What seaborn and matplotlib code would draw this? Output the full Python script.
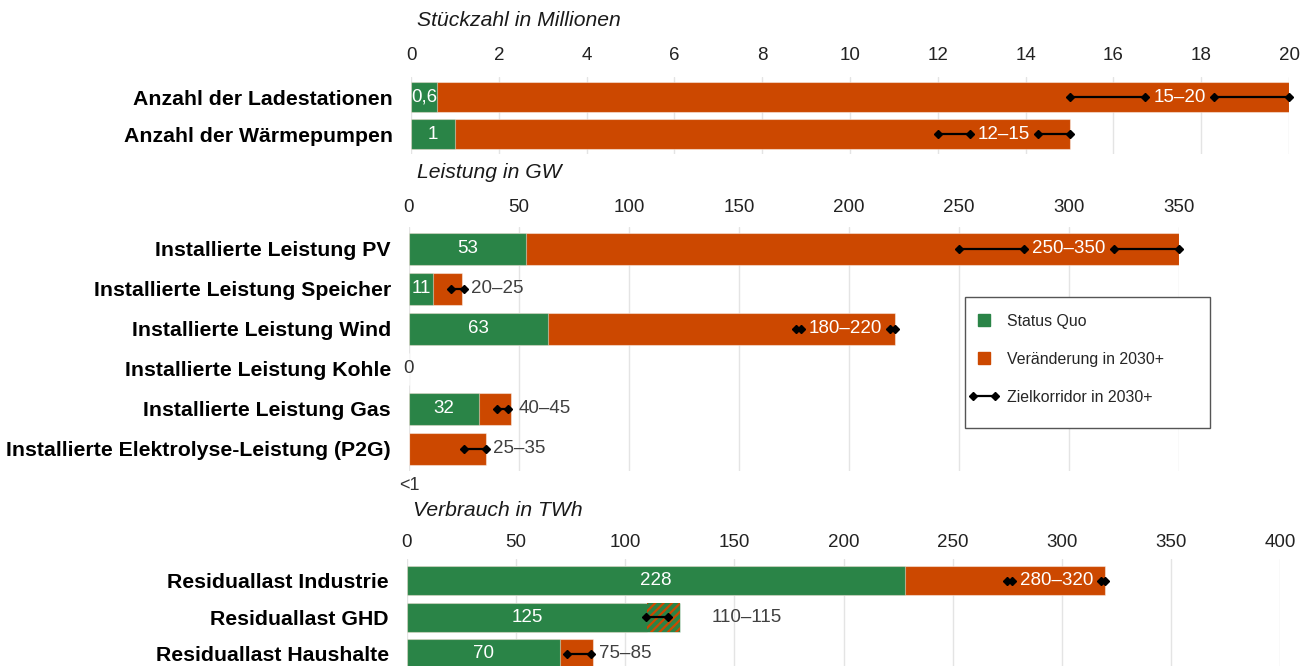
import matplotlib
matplotlib.use('Agg')
import matplotlib.pyplot as plt
import pandas as pd
import seaborn as sns
from matplotlib.lines import Line2D
from matplotlib.patches import Rectangle
from matplotlib.legend_handler import HandlerLine2D

GREEN = '#2a8447'
ORANGE = '#cc4800'
DARK = '#333333'

# Stückzahl in Millionen
count_cats = ['Anzahl der Ladestationen', 'Anzahl der Wärmepumpen']
count_status = [0.6, 1]
count_total = [20, 15]
count_lo = [15, 12]
count_hi = [20, 15]
count_status_txt = ['0,6', '1']
count_range_txt = ['15–20', '12–15']

# Leistung in GW
power_cats = ['Installierte Leistung PV', 'Installierte Leistung Speicher',
              'Installierte Leistung Wind', 'Installierte Leistung Kohle',
              'Installierte Leistung Gas', 'Installierte Elektrolyse-Leistung (P2G)']
power_status = [53, 11, 63, 0, 32, 0]
power_total = [350, 24, 221, 0, 46.5, 35]
power_lo = [250, 19, 176, None, 40, 25]
power_hi = [350, 25, 221, None, 45, 35]
power_status_txt = ['53', '11', '63', '0', '32', '<1']
power_range_txt = ['250–350', '20–25', '180–220', '', '40–45', '25–35']

# Verbrauch in TWh
energy_cats = ['Residuallast Industrie', 'Residuallast GHD', 'Residuallast Haushalte']
energy_status = [228, 125, 70]
energy_total = [320, 110, 85]
energy_lo = [275, 109.5, 73.5]
energy_hi = [320, 119.5, 84.5]
energy_status_txt = ['228', '125', '70']
energy_range_txt = ['280–320', '110–115', '75–85']

sns.set_theme(style='white')
plt.rcParams['font.family'] = ['Liberation Sans', 'DejaVu Sans']
plt.rcParams['hatch.linewidth'] = 1.6

NUM_FS = 13.5
CAT_FS = 15.3
DIA = 4.2

fig = plt.figure(figsize=(13.07, 6.66), dpi=100)

inline_ranges = []


def draw_panel(ax, cats, status, total, lo, hi, status_txt, range_txt, xmax, step, xpad):
    df = pd.DataFrame({'cat': cats, 'status': status, 'total': total})
    bar_kw = dict(orient='h', saturation=1, width=0.8, errorbar=None, ax=ax,
                  edgecolor=(1, 1, 1, 0.45), linewidth=0.8)
    sns.barplot(data=df, x='total', y='cat', color=ORANGE, **bar_kw)
    sns.barplot(data=df, x='status', y='cat', color=GREEN, **bar_kw)

    for i in range(len(cats)):
        s, t = status[i], total[i]
        # reduction against status quo -> hatched part
        if t < s:
            ax.barh(i, s - t, left=t, height=0.8, color=GREEN, hatch='////',
                    edgecolor=ORANGE, linewidth=0, zorder=2)
        # status quo label
        if status_txt[i] == '<1':
            ax.annotate('<1', (0, i), xytext=(0, -26), textcoords='offset points',
                        ha='center', va='center', fontsize=NUM_FS - 0.5, color=DARK)
        elif s == 0:
            ax.text(0, i, status_txt[i], ha='center', va='center',
                    fontsize=NUM_FS, color=DARK)
        else:
            ax.text(min(s, t) / 2, i, status_txt[i], ha='center', va='center',
                    fontsize=NUM_FS, color='white', zorder=6)

        if lo[i] is None:
            continue
        if (t - s) / xmax > 0.15:
            # label sits on the bar, the range line is cut around it (done later)
            txt = ax.text((lo[i] + hi[i]) / 2, i, range_txt[i], ha='center', va='center',
                          fontsize=NUM_FS, color='white', zorder=6)
            ax.plot([lo[i], hi[i]], [i, i], ls='none', marker='D', ms=DIA,
                    color='black', zorder=5, clip_on=False)
            inline_ranges.append((ax, txt, i, lo[i], hi[i]))
        else:
            ax.plot([lo[i], hi[i]], [i, i], color='black', lw=1.6, marker='D', ms=DIA,
                    zorder=5, clip_on=False)
            end = max(s, t, hi[i])
            ax.annotate(range_txt[i], (end, i), xytext=(xpad.get(cats[i], 5), 0),
                        textcoords='offset points', ha='left', va='center',
                        fontsize=NUM_FS, color='#404040')

    ax.set_xlim(0, xmax)
    ax.set_xticks(range(0, xmax + 1, step))
    ax.xaxis.tick_top()
    ax.grid(axis='x', color='#e4e4e4', lw=1)
    ax.set_axisbelow(True)
    ax.set_xlabel('')
    ax.set_ylabel('')
    sns.despine(ax=ax, left=True, bottom=True, top=True, right=True)
    ax.tick_params(axis='y', length=0, pad=13, labelsize=CAT_FS, labelcolor='black')
    for lab in ax.get_yticklabels():
        lab.set_fontweight('bold')


# axes positions in figure fractions
ax1 = fig.add_axes([0.3145, 0.7682, 0.6718, 0.1167])
ax2 = fig.add_axes([0.3129, 0.2928, 0.5891, 0.3664])
ax3 = fig.add_axes([0.3114, -0.012, 0.668, 0.1727])

draw_panel(ax1, count_cats, count_status, count_total, count_lo, count_hi,
           count_status_txt, count_range_txt, 20, 2, {})
draw_panel(ax2, power_cats, power_status, power_total, power_lo, power_hi,
           power_status_txt, power_range_txt, 350, 50, {})
draw_panel(ax3, energy_cats, energy_status, energy_total, energy_lo, energy_hi,
           energy_status_txt, energy_range_txt, 400, 50, {'Residuallast GHD': 23})

ax1.set_ylim(1.55, -0.55)
ax2.set_ylim(5.55, -0.55)
ax3.set_ylim(2.55, -0.6)
ax1.tick_params(axis='x', length=0, pad=9, labelsize=NUM_FS, labelcolor='#222222')
ax2.tick_params(axis='x', length=0, pad=8, labelsize=NUM_FS, labelcolor='#222222')
ax3.tick_params(axis='x', length=0, pad=6, labelsize=NUM_FS, labelcolor='#222222')

# panel titles
fig.text(417 / 1307, 1 - 20 / 666, 'Stückzahl in Millionen', style='italic',
         fontsize=15.2, va='center', ha='left', color='#1a1a1a')
fig.text(417 / 1307, 1 - 173 / 666, 'Leistung in GW', style='italic',
         fontsize=15.2, va='center', ha='left', color='#1a1a1a')
fig.text(413 / 1307, 1 - 511 / 666, 'Verbrauch in TWh', style='italic',
         fontsize=15.2, va='center', ha='left', color='#1a1a1a')

# legend with its own box
fig.patches.append(Rectangle((965 / 1307, 1 - 428 / 666), 245 / 1307, 131 / 666,
                             transform=fig.transFigure, fc='white', ec='#555555',
                             lw=1, zorder=5))
h_sq = Line2D([], [], marker='s', ls='none', color=GREEN, ms=9)
h_ch = Line2D([], [], marker='s', ls='none', color=ORANGE, ms=9)
h_rg = Line2D([], [], marker='D', color='black', lw=1.6, ms=DIA)
leg = fig.legend([h_sq, h_ch, h_rg],
                 ['Status Quo', 'Veränderung in 2030+', 'Zielkorridor in 2030+'],
                 loc='upper left', bbox_to_anchor=(968 / 1307, 1 - 314 / 666),
                 frameon=False, fontsize=11.4, numpoints=1,
                 handler_map={h_rg: HandlerLine2D(numpoints=2)},
                 borderpad=0, borderaxespad=0, labelspacing=1.45,
                 handlelength=2.0, handletextpad=0.45)
leg.set_zorder(6)

# range lines broken around the inline labels
fig.canvas.draw()
renderer = fig.canvas.get_renderer()
GAP_PX = 8
for ax, txt, i, lo, hi in inline_ranges:
    bb = txt.get_window_extent(renderer)
    inv = ax.transData.inverted()
    x0 = inv.transform((bb.x0 - GAP_PX, 0))[0]
    x1 = inv.transform((bb.x1 + GAP_PX, 0))[0]
    ax.plot([lo, max(lo, x0)], [i, i], color='black', lw=1.6, zorder=5, clip_on=False)
    ax.plot([min(hi, x1), hi], [i, i], color='black', lw=1.6, zorder=5, clip_on=False)
    ax.plot([x0, x1], [i, i], ls='none', marker='D', ms=DIA, color='black', zorder=7)

fig.savefig('out.png', dpi=100)
